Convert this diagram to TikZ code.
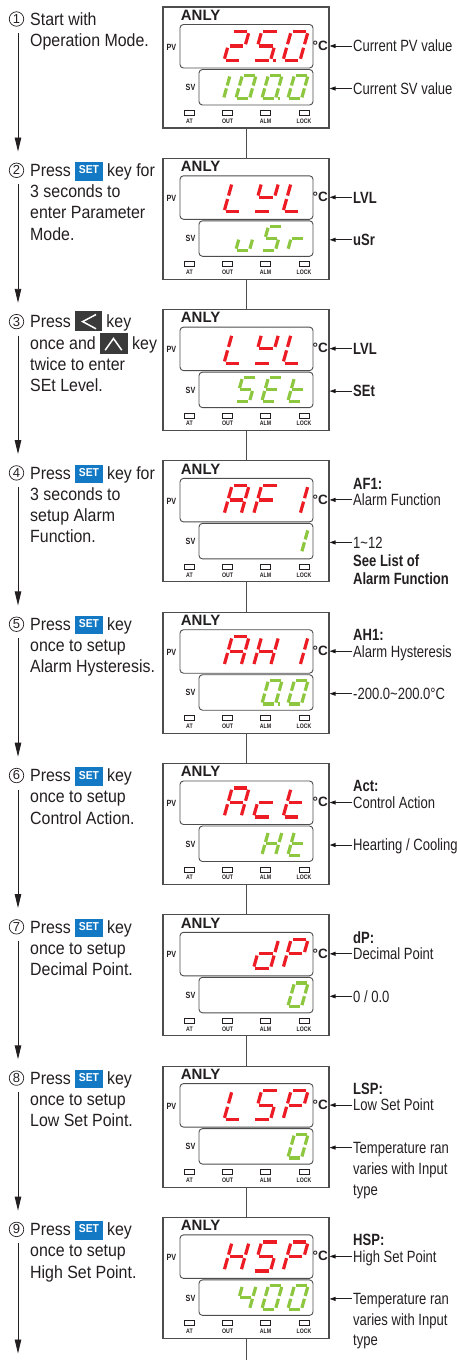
\documentclass[tikz,border=0pt]{standalone}
\usepackage{fontspec}
\setmainfont{Liberation Sans}
\newfontfamily\stepfont[FakeStretch=0.9]{Liberation Sans}
\newfontfamily\notefont[FakeStretch=0.8]{Liberation Sans}
\usetikzlibrary{positioning,arrows.meta}

\definecolor{ink}{HTML}{231F20}
\definecolor{rim}{HTML}{4D4D4D}
\definecolor{segred}{HTML}{ED1C24}
\definecolor{seggreen}{HTML}{8DC63F}
\definecolor{keyblue}{HTML}{1479C4}
\definecolor{keygray}{HTML}{3A3A3A}

\newcommand\sega{(0.1,1)--(0.9,1)}
\newcommand\segb{(1,0.94)--(1,0.56)}
\newcommand\segc{(1,0.44)--(1,0.06)}
\newcommand\segd{(0.1,0)--(0.9,0)}
\newcommand\sege{(0,0.44)--(0,0.06)}
\newcommand\segf{(0,0.94)--(0,0.56)}
\newcommand\segg{(0.1,0.5)--(0.9,0.5)}
\newcommand\segp{(1.16,0)--(1.3,0)}
\newcommand\sevseg[6]{%
  \begin{scope}[shift={(#2,#3)},x={(#4pt,0pt)},y={(0.28*#5pt,#5pt)}]
    \foreach \sg in {#6}{\edef\segpath{\csname seg\sg\endcsname}\draw[segline,#1] \segpath;}
  \end{scope}}
\newcommand\pvchar[3]{\sevseg{segred}{283-29.5*#2}{#1+53.5}{17}{29}{#3}}
\newcommand\svchar[3]{\sevseg{seggreen}{287.8-26*#2}{#1+91.8}{13.7}{23.7}{#3}}

\newcommand\setkey{{\setlength\fboxsep{0pt}\colorbox{keyblue}{\makebox[27.3pt]{\rule[-4pt]{0pt}{18.3pt}\raisebox{2.7pt}{\fontsize{11.5}{11.5}\selectfont\bfseries\color{white}SET}}}}}
\newcommand\leftkey{\tikz[baseline=0pt,x=1pt,y=1pt]{\fill[keygray] (0,-3.4) rectangle (26.7,17.3); \draw[white,line width=1.5pt] (20.7,13.3) -- (7.3,6.2) -- (20.7,-1);}}
\newcommand\upkey{\tikz[baseline=0pt,x=1pt,y=1pt]{\fill[keygray] (0,-5.2) rectangle (27.6,15.8); \draw[white,line width=1.5pt] (5,-1.2) -- (13.3,10.5) -- (21.6,-1.2);}}

\begin{document}
\begin{tikzpicture}[x=1pt,y=-1pt,
  panel/.style={draw=rim,line width=1.1pt,minimum width=166pt,minimum height=121pt,inner sep=0pt},
  display/.style={draw=rim,line width=0.9pt,rounded corners=3.5pt},
  led/.style={draw=ink,line width=0.6pt,fill=white},
  ledtag/.style={font=\notefont\bfseries\fontsize{6.5}{6.5}\selectfont,inner sep=0pt,text=ink},
  pvtag/.style={font=\notefont\bfseries\fontsize{9}{9}\selectfont,inner sep=0pt,text=ink},
  brand/.style={font=\bfseries\fontsize{15}{15}\selectfont,inner sep=0pt,anchor=base west,text=ink},
  degree/.style={font=\bfseries\fontsize{13.5}{13.5}\selectfont,inner sep=0pt,anchor=base,text=ink},
  num/.style={circle,draw=ink,line width=0.7pt,minimum size=14.5pt,inner sep=0pt,font=\fontsize{13}{13}\selectfont,text=ink},
  stepnote/.style={font=\stepfont\fontsize{17.7}{21.2}\selectfont,align=left,anchor=north west,inner sep=0pt,text=ink},
  note/.style={font=\notefont\fontsize{16.3}{16.3}\selectfont,anchor=west,inner xsep=1pt,inner ysep=0pt,text height=11.7pt,text depth=0pt,text=ink},
  boldnote/.style={note,font=\notefont\bfseries\fontsize{16.3}{16.3}\selectfont},
  flow/.style={draw=ink,line width=0.9pt,-{Triangle[length=14pt,width=6.5pt]}},
  pointer/.style={draw=ink,line width=0.9pt,-{Triangle[length=6pt,width=4pt]}},
  wire/.style={draw=rim,line width=0.9pt},
  segline/.style={line width=3.2pt}]

\useasboundingbox (0,0) rectangle (456,1360);
\clip (0,0) rectangle (456,1360);

\foreach \k in {1,...,9}{
  \pgfmathsetmacro\tp{7+151.3*(\k-1)}
  \pgfmathsetmacro\bt{min(\tp+144.5,1353.5)}
  \node[panel] (p\k) at (246,\tp+60.5) {};
  \node[num] (n\k) at (16.5,\tp+12) {\k};
  \coordinate (a\k) at (18,\tp+26);
  \coordinate (b\k) at (18,\bt);
  \begin{scope}[shift={(163,\tp)}]
    \node[brand] (brand\k) at (17.7,13.3) {ANLY};
    \draw[display] (17,17.5) rectangle (150,61);
    \draw[display] (36,62.5) rectangle (150,98);
    \node[pvtag] (pvtag\k) at (8.4,40) {PV};
    \node[pvtag] (svtag\k) at (27.5,80.5) {SV};
    \node[degree] (deg\k) at (157.3,43.3) {°C};
    \foreach \x/\lbl in {26.5/AT,64.5/OUT,102.6/ALM,141/LOCK}{
      \draw[led] (\x-5,103.3) rectangle ++(10,5);
      \node[ledtag] (\lbl\k) at (\x,114) {\lbl};}
  \end{scope}}

\foreach \k [count=\j from 2] in {1,...,8} \draw[wire] (p\k.south) -- (p\j.north);
\coordinate (bottom) at (246,1360);
\draw[wire] (p9.south) -- (bottom);
\foreach \k in {1,...,9} \draw[flow] (a\k) -- (b\k);

\node[stepnote] (t1) at (30,7) {\rule{0pt}{18pt}Start with\\Operation Mode.};
\node[stepnote] (t2) at (30,158.3) {\rule{0pt}{18pt}Press \setkey{} key for\\3 seconds to\\enter Parameter\\Mode.};
\node[stepnote] (t3) at (30,309.6) {\rule{0pt}{18pt}Press \leftkey{} key\\once and \upkey{} key\\twice to enter\\SEt Level.};
\node[stepnote] (t4) at (30,460.9) {\rule{0pt}{18pt}Press \setkey{} key for\\3 seconds to\\setup Alarm\\Function.};
\node[stepnote] (t5) at (30,612.2) {\rule{0pt}{18pt}Press \setkey{} key\\once to setup\\Alarm Hysteresis.};
\node[stepnote] (t6) at (30,763.5) {\rule{0pt}{18pt}Press \setkey{} key\\once to setup\\Control Action.};
\node[stepnote] (t7) at (30,914.8) {\rule{0pt}{18pt}Press \setkey{} key\\once to setup\\Decimal Point.};
\node[stepnote] (t8) at (30,1066.1) {\rule{0pt}{18pt}Press \setkey{} key\\once to setup\\Low Set Point.};
\node[stepnote] (t9) at (30,1217.4) {\rule{0pt}{18pt}Press \setkey{} key\\once to setup\\High Set Point.};

\pvchar{7}{2}{a,b,g,e,d} \pvchar{7}{1}{a,f,g,c,d,p} \pvchar{7}{0}{a,b,c,d,e,f}
\svchar{7}{3}{b,c} \svchar{7}{2}{a,b,c,d,e,f} \svchar{7}{1}{a,b,c,d,e,f,p} \svchar{7}{0}{a,b,c,d,e,f}
\pvchar{158.3}{2}{f,e,d} \pvchar{158.3}{1}{f,b,g,d} \pvchar{158.3}{0}{f,e,d}
\svchar{158.3}{2}{c,d,e} \svchar{158.3}{1}{a,f,g,c,d} \svchar{158.3}{0}{e,g}
\pvchar{309.6}{2}{f,e,d} \pvchar{309.6}{1}{f,b,g,d} \pvchar{309.6}{0}{f,e,d}
\svchar{309.6}{2}{a,f,g,c,d} \svchar{309.6}{1}{a,f,g,e,d} \svchar{309.6}{0}{f,g,e,d}
\pvchar{460.9}{2}{a,b,c,e,f,g} \pvchar{460.9}{1}{a,f,g,e} \pvchar{460.9}{0}{b,c}
\svchar{460.9}{0}{b,c}
\pvchar{612.2}{2}{a,b,c,e,f,g} \pvchar{612.2}{1}{b,c,e,f,g} \pvchar{612.2}{0}{b,c}
\svchar{612.2}{1}{a,b,c,d,e,f,p} \svchar{612.2}{0}{a,b,c,d,e,f}
\pvchar{763.5}{2}{a,b,c,e,f,g} \pvchar{763.5}{1}{g,e,d} \pvchar{763.5}{0}{f,g,e,d}
\svchar{763.5}{1}{b,c,e,f,g} \svchar{763.5}{0}{f,g,e,d}
\pvchar{914.8}{1}{b,c,d,e,g} \pvchar{914.8}{0}{a,b,f,g,e}
\svchar{914.8}{0}{a,b,c,d,e,f}
\pvchar{1066.1}{2}{f,e,d} \pvchar{1066.1}{1}{a,f,g,c,d} \pvchar{1066.1}{0}{a,b,f,g,e}
\svchar{1066.1}{0}{a,b,c,d,e,f}
\pvchar{1217.4}{2}{b,c,e,f,g} \pvchar{1217.4}{1}{a,f,g,c,d} \pvchar{1217.4}{0}{a,b,f,g,e}
\svchar{1217.4}{2}{f,g,b,c} \svchar{1217.4}{1}{a,b,c,d,e,f} \svchar{1217.4}{0}{a,b,c,d,e,f}

\node[note] (c1pv) at (352,46) {Current PV value};
\node[note] (c1sv) at (352,88.5) {Current SV value};
\node[boldnote] (c2pv) at (352,197.3) {LVL};
\node[boldnote] (c2sv) at (352,239.8) {uSr};
\node[boldnote] (c3pv) at (352,348.6) {LVL};
\node[boldnote] (c3sv) at (352,391.1) {SEt};
\node[note] (c4pv) at (352,499.9) {Alarm Function};
\node[note] (c4sv) at (352,542.4) {1\textasciitilde 12};
\node[boldnote,above=16.5pt of c4pv.west,anchor=west] (h4) {AF1:};
\node[boldnote,below=18pt of c4sv.west,anchor=west] (c4a) {See List of};
\node[boldnote,below=18pt of c4a.west,anchor=west] (c4b) {Alarm Function};
\node[note] (c5pv) at (352,651.2) {Alarm Hysteresis};
\node[note] (c5sv) at (352,693.7) {-200.0\textasciitilde 200.0°C};
\node[boldnote,above=16.5pt of c5pv.west,anchor=west] (h5) {AH1:};
\node[note] (c6pv) at (352,802.5) {Control Action};
\node[note] (c6sv) at (352,845) {Hearting / Cooling};
\node[boldnote,above=16.5pt of c6pv.west,anchor=west] (h6) {Act:};
\node[note] (c7pv) at (352,953.8) {Decimal Point};
\node[note] (c7sv) at (352,996.3) {0 / 0.0};
\node[boldnote,above=16.5pt of c7pv.west,anchor=west] (h7) {dP:};
\node[note] (c8pv) at (352,1105.1) {Low Set Point};
\node[note] (c8sv) at (352,1147.6) {Temperature ran};
\node[boldnote,above=16.5pt of c8pv.west,anchor=west] (h8) {LSP:};
\node[note,below=21pt of c8sv.west,anchor=west] (c8a) {varies with Input};
\node[note,below=21pt of c8a.west,anchor=west] (c8b) {type};
\node[note] (c9pv) at (352,1256.4) {High Set Point};
\node[note] (c9sv) at (352,1298.9) {Temperature ran};
\node[boldnote,above=16.5pt of c9pv.west,anchor=west] (h9) {HSP:};
\node[note,below=20.5pt of c9sv.west,anchor=west] (c9a) {varies with Input};
\node[note,below=20.5pt of c9a.west,anchor=west] (c9b) {type};

\foreach \k in {1,...,9}{
  \draw[pointer] (c\k pv.west) -- (c\k pv.west -| p\k.east);
  \draw[pointer] (c\k sv.west) -- (c\k sv.west -| p\k.east);}
\end{tikzpicture}
\end{document}
